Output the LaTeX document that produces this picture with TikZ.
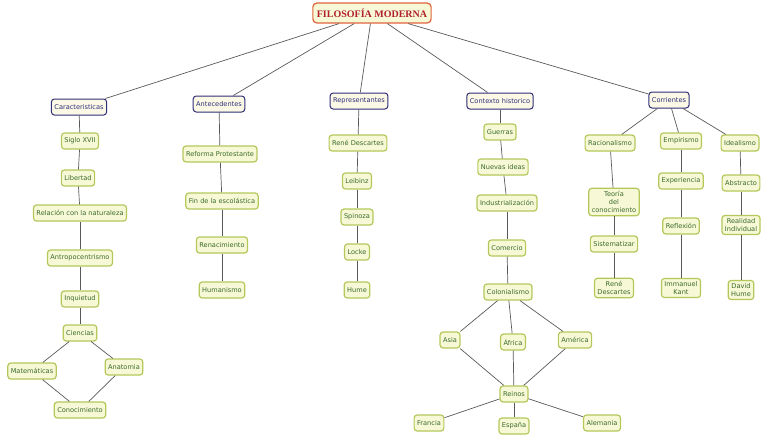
\documentclass[tikz,border=0pt]{standalone}
\usepackage{fontspec}
\setmainfont{DejaVu Sans}
\newfontfamily\titlefont{Liberation Serif}
\usepackage{tikz}
\usetikzlibrary{positioning}
\definecolor{leafborder}{HTML}{B4C85A}
\definecolor{leaffill}{HTML}{F7F8D6}
\definecolor{leaftext}{HTML}{3A6A2A}
\definecolor{catborder}{HTML}{2E2E7A}
\definecolor{catfill}{HTML}{FBF8E6}
\definecolor{titleborder}{HTML}{E0643A}
\definecolor{titletext}{HTML}{B0202A}
\tikzset{
    leaf/.style={
        draw=leafborder,
        fill=leaffill,
        text=leaftext,
        line width=1.2pt,
        rounded corners=3pt,
        align=center,
        font=\fontsize{6.6}{8}\selectfont,
        inner sep=3pt,
        minimum height=16pt
    },
    cat/.style={
        leaf,
        draw=catborder,
        fill=catfill,
        text=catborder,
        line width=1pt
    },
    title/.style={
        draw=titleborder,
        fill=leaffill,
        text=titletext,
        line width=1.2pt,
        rounded corners=4pt,
        font=\titlefont\bfseries\fontsize{10}{12}\selectfont,
        minimum height=20pt,
        inner sep=4pt
    },
    link/.style={draw=black!65, line width=0.7pt}
}
\begin{document}
\begin{tikzpicture}[x=1pt,y=-1pt]
\useasboundingbox (0,0) rectangle (768,436);
% main branches
\node[title] (fm) at (372,13) {FILOSOFÍA MODERNA};
\node[cat] (car) at (79,107) {Caracteristicas};
\node[cat] (ant) at (219,104) {Antecedentes};
\node[cat] (rep) at (359,101) {Representantes};
\node[cat] (con) at (500,101) {Contexto historico};
\node[cat] (cor) at (669,100) {Corrientes};
% caracteristicas
\node[leaf] (c1) at (80,141) {Siglo XVII};
\node[leaf] (c2) at (78,178) {Libertad};
\node[leaf] (c3) at (80,213) {Relación con la naturaleza};
\node[leaf] (c4) at (80,258) {Antropocentrismo};
\node[leaf] (c5) at (80,299) {Inquietud};
\node[leaf] (c6) at (80,333) {Ciencias};
\node[leaf] (mat) at (32,371) {Matemáticas};
\node[leaf] (anat) at (124,367) {Anatomia};
\node[leaf] (cono) at (80,410) {Conocimiento};
% antecedentes
\node[leaf] (a1) at (220,154) {Reforma Protestante};
\node[leaf] (a2) at (222,201) {Fin de la escolástica};
\node[leaf] (a3) at (222,245) {Renacimiento};
\node[leaf] (a4) at (222,290) {Humanismo};
% representantes
\node[leaf] (r1) at (358,143) {René Descartes};
\node[leaf] (r2) at (357,181) {Leibinz};
\node[leaf] (r3) at (357,217) {Spinoza};
\node[leaf] (r4) at (357,252) {Locke};
\node[leaf] (r5) at (357,290) {Hume};
% contexto
\node[leaf] (h1) at (500,132) {Guerras};
\node[leaf] (h2) at (503,167) {Nuevas ideas};
\node[leaf] (h3) at (507,203) {Industrialización};
\node[leaf] (h4) at (507,248) {Comercio};
\node[leaf] (h5) at (508,292) {Colonialismo};
\node[leaf] (asia) at (450,340) {Asia};
\node[leaf] (afr) at (513,342) {África};
\node[leaf] (ame) at (575,340) {América};
\node[leaf] (rei) at (514,394) {Reinos};
\node[leaf] (fra) at (429,423) {Francia};
\node[leaf] (esp) at (514,426) {España};
\node[leaf] (ale) at (602,423) {Alemania};
% corrientes
\node[leaf] (rac) at (610,143) {Racionalismo};
\node[leaf] (emp) at (681,141) {Empirismo};
\node[leaf] (ide) at (740,143) {Idealismo};
\node[leaf] (t1) at (614,202) {Teoría\\del\\conocimiento};
\node[leaf] (t2) at (614,244) {Sistematizar};
\node[leaf] (t3) at (614,288) {René\\Descartes};
\node[leaf] (e1) at (681,181) {Experiencia};
\node[leaf] (e2) at (681,226) {Reflexión};
\node[leaf] (e3) at (681,288) {Immanuel\\Kant};
\node[leaf] (i1) at (741,183) {Abstracto};
\node[leaf] (i2) at (741,225) {Realidad\\Individual};
\node[leaf] (i3) at (741,290) {David\\Hume};
\begin{scope}[on background layer/.style={}]
\foreach \s/\t in {fm/car,fm/ant,fm/rep,fm/con,fm/cor,
    car/c1,c1/c2,c2/c3,c3/c4,c4/c5,c5/c6,c6/mat,c6/anat,mat/cono,anat/cono,
    ant/a1,a1/a2,a2/a3,a3/a4,
    rep/r1,r1/r2,r2/r3,r3/r4,r4/r5,
    con/h1,h1/h2,h2/h3,h3/h4,h4/h5,h5/asia,h5/afr,h5/ame,asia/rei,afr/rei,ame/rei,rei/fra,rei/esp,rei/ale,
    cor/rac,cor/emp,cor/ide,rac/t1,t1/t2,t2/t3,emp/e1,e1/e2,e2/e3,ide/i1,i1/i2,i2/i3}
  \draw[link] (\s) -- (\t);
\end{scope}
\end{tikzpicture}
\end{document}
